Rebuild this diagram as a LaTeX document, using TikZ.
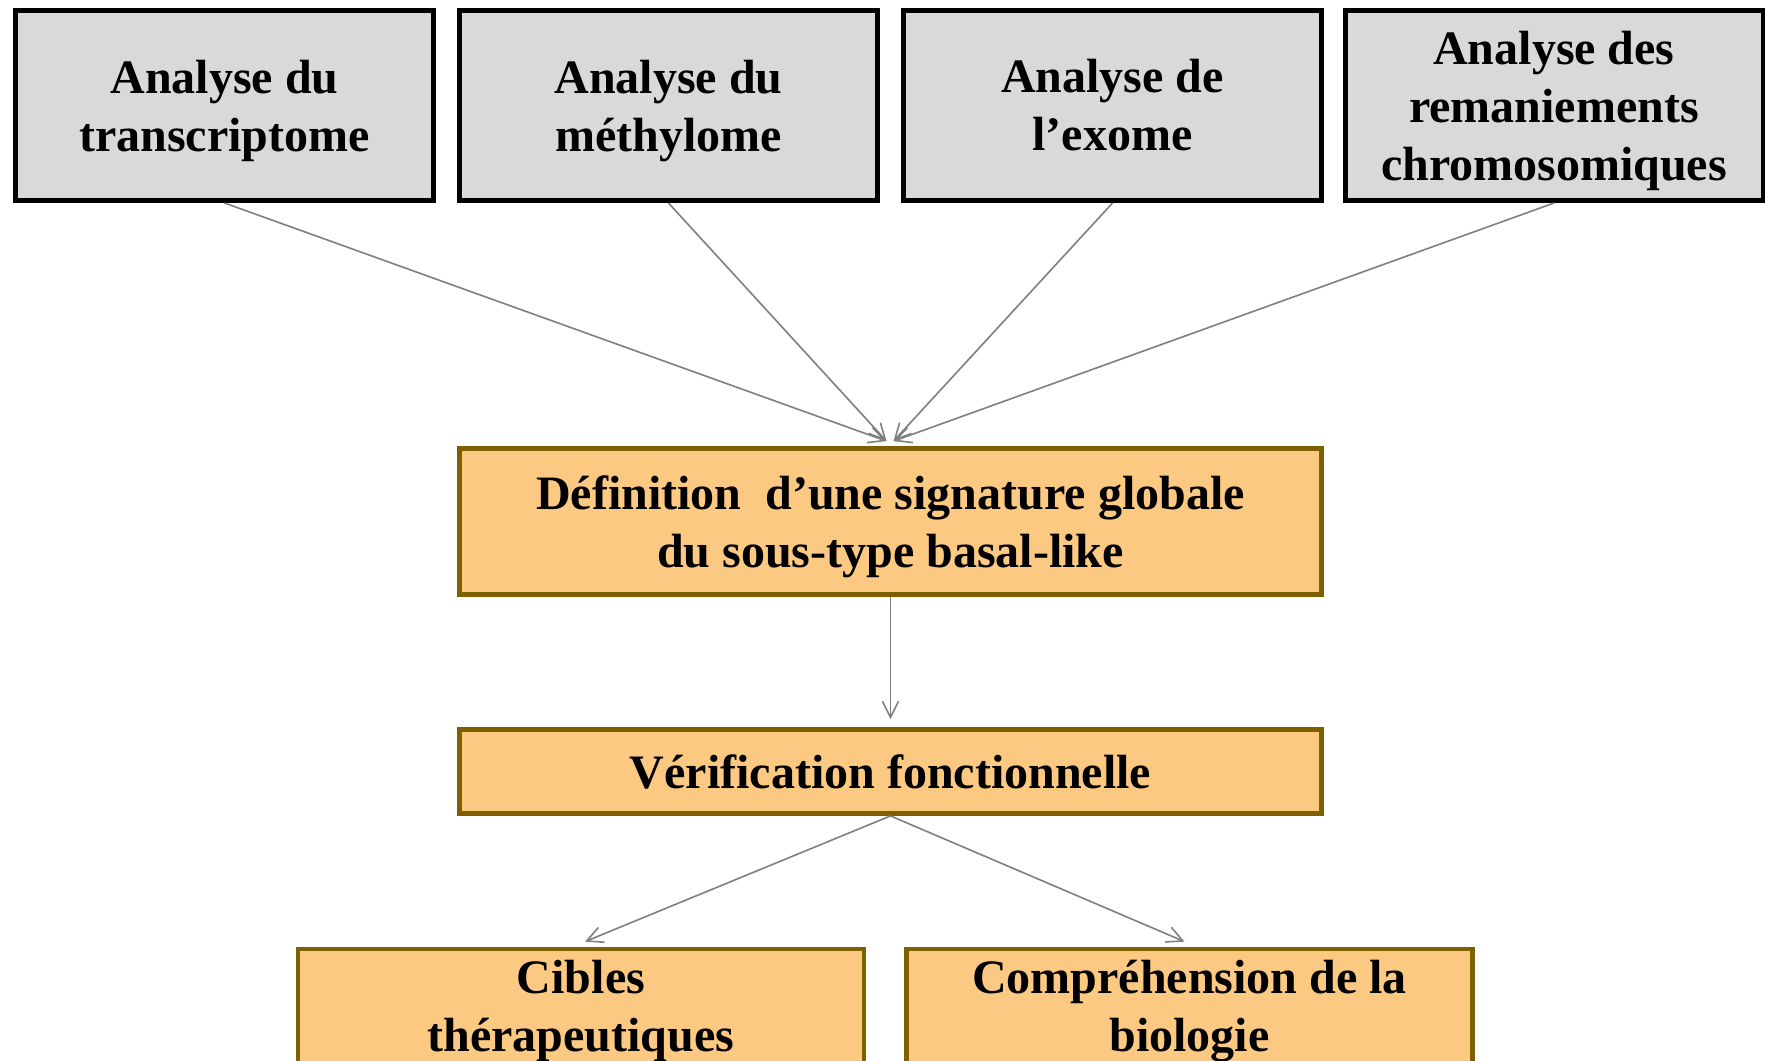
\documentclass[tikz,border=0pt]{standalone}
\usepackage{fontspec}
\setmainfont{Liberation Serif}
\usetikzlibrary{arrows.meta}
\definecolor{boxgray}{HTML}{D9D9D9}
\definecolor{boxorange}{HTML}{FCC982}
\definecolor{boxbrown}{HTML}{7F6000}
\definecolor{arrowgray}{HTML}{7F7F7F}
\newcommand{\nodesc}[1]{\raisebox{0pt}[\height][0pt]{#1}}
\tikzset{
  lbl/.style={font=\fontsize{24}{29}\selectfont\bfseries, align=center, inner sep=0pt},
  topbox/.style={lbl, draw=black, fill=boxgray, line width=2.5pt, minimum width=209pt, minimum height=95pt},
  orangebox/.style={lbl, draw=boxbrown, fill=boxorange, line width=2.4pt},
  conn/.style={draw=arrowgray, line width=0.8pt, -{Straight Barb[length=8pt,width=8pt,line width=0.8pt]}}
}
\begin{document}
\begin{tikzpicture}[x=0.5pt,y=-0.5pt]
\useasboundingbox (0,0) rectangle (1765,1060);
\fill[white] (0,0) rectangle (1765,1060);
% top boxes
\node[topbox] (t1) at (224.5,105.5) {Analyse du\\\nodesc{transcriptome}};
\node[topbox] (t2) at (668.5,105.5) {Analyse du\\\nodesc{méthylome}};
\node[topbox] (t3) at (1112.5,105.5) {Analyse de\\l’exome};
\node[topbox] (t4) at (1554,105.5) {Analyse des\\remaniements\\\nodesc{chromosomiques}};
% middle boxes
\node[orangebox, minimum width=431pt, minimum height=73pt] (def) at (890.5,521.5) {Définition\ \ d’une signature globale\\\nodesc{du sous-type basal-like}};
\node[orangebox, minimum width=431pt, minimum height=42pt] (ver) at (890.5,771.5) {Vérification fonctionnelle};
% bottom boxes
\node[orangebox, minimum width=283pt, minimum height=62pt] (cib) at (581,1011) {Cibles\\thérapeutiques};
\node[orangebox, minimum width=283pt, minimum height=62pt] (bio) at (1189.5,1011) {Compréhension de la\\biologie};
% connectors
\coordinate (inL) at ([xshift=-2pt,yshift=2.5pt]def.north);
\coordinate (inR) at ([xshift=1.5pt,yshift=2.5pt]def.north);
\draw[conn] (t1.south) -- (inL);
\draw[conn] (t2.south) -- (inL);
\draw[conn] (t3.south) -- (inR);
\draw[conn] (t4.south) -- (inR);
\draw[conn] (def.south) -- ([yshift=4pt]ver.north);
\draw[conn] (ver.south) -- ([xshift=2pt,yshift=2.5pt]cib.north);
\draw[conn] (ver.south) -- ([xshift=-2.5pt,yshift=2.5pt]bio.north);
\end{tikzpicture}
\end{document}
